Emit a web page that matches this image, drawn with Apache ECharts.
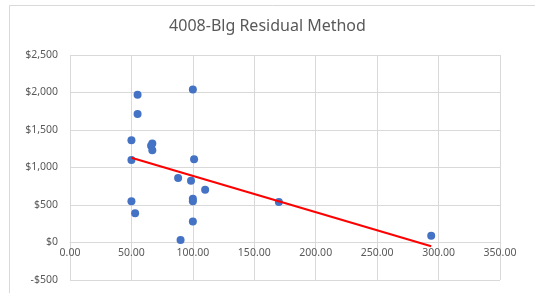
<!DOCTYPE html>
<html>
<head>
<meta charset="utf-8">
<script src="https://cdn.jsdelivr.net/npm/echarts@6/dist/echarts.min.js"></script>
<style>
  html, body { margin: 0; padding: 0; background: #fff; }
  #chart { width: 535px; height: 293px; }
</style>
</head>
<body>
<div id="chart"></div>
<script>
// scatter points (size, residual $)
var xValues = [55, 100, 55, 50, 67, 66, 67, 50, 101, 88, 98.5, 110, 100, 100, 50, 53, 100, 90, 170, 294];
var yValues = [1970, 2040, 1715, 1365, 1320, 1290, 1230, 1100, 1110, 860, 825, 705, 585, 550, 550, 390, 280, 35, 540, 90];
// trendline endpoints
var trendX = [50, 294];
var trendY = [1130, -50];

var points = xValues.map(function (x, i) { return [x, yValues[i]]; });
var trend = trendX.map(function (x, i) { return [x, trendY[i]]; });

var chart = echarts.init(document.getElementById('chart'), null, { renderer: 'canvas' });
var font = 'Noto Sans';
var yMin = -500, yMax = 2500;
var plotH = 293 - 55 - 13;

var option = {
  animation: false,
  title: {
    text: '4008-Blg Residual Method',
    left: 'center',
    top: 13,
    textStyle: { fontFamily: font, fontSize: 16, fontWeight: 'normal', color: '#595959' }
  },
  graphic: [{
    type: 'rect',
    shape: { x: 9.5, y: 5.5, width: 540, height: 300 },
    style: { fill: 'none', stroke: '#d9d9d9', lineWidth: 1 },
    silent: true
  }],
  grid: { left: 70, right: 35, top: 55, bottom: 13 },
  xAxis: {
    type: 'value',
    min: 0, max: 350, interval: 50,
    position: 'bottom',
    // excel puts the x axis where y = 0
    offset: -plotH * (0 - yMin) / (yMax - yMin),
    axisLine: { onZero: false, lineStyle: { color: '#d9d9d9' } },
    axisTick: { show: false },
    splitLine: { lineStyle: { color: '#d9d9d9' } },
    axisLabel: {
      color: '#595959', fontFamily: font, fontSize: 10.5, margin: 5,
      formatter: function (v) { return v.toFixed(2); }
    }
  },
  yAxis: {
    type: 'value',
    min: yMin, max: yMax, interval: 500,
    axisLine: { show: false, onZero: false },
    axisTick: { show: false },
    splitLine: { lineStyle: { color: '#d9d9d9' } },
    axisLabel: {
      color: '#595959', fontFamily: font, fontSize: 10.5, margin: 12,
      formatter: function (v) {
        var s = '$' + Math.abs(v).toLocaleString('en-US');
        return v < 0 ? '-' + s : s;
      }
    }
  },
  series: [
    {
      type: 'scatter',
      data: points,
      symbolSize: 8,
      itemStyle: { color: '#4472c4', opacity: 1 }
    },
    {
      type: 'line',
      data: trend,
      symbol: 'none',
      lineStyle: { color: '#ff0000', width: 2 }
    }
  ]
};

chart.setOption(option);
</script>
</body>
</html>
